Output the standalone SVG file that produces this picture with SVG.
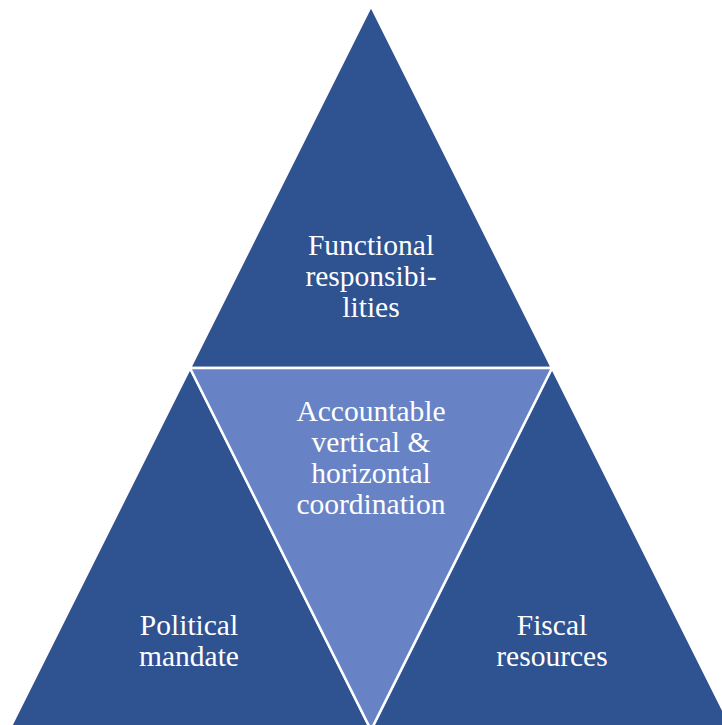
<svg xmlns="http://www.w3.org/2000/svg" width="722" height="725" viewBox="0 0 722 725">
<style>
.dark{fill:#2F5290;stroke:#FFFFFF;stroke-width:2.5;stroke-linejoin:miter}
.light{fill:#6883C5;stroke:#FFFFFF;stroke-width:2.5;stroke-linejoin:miter}
.lbl{font-size:29.5px;fill:#FFFFFF;text-anchor:middle}
</style>
<rect width="722" height="725" fill="#FFFFFF"/>
<g id="top">
<polygon class="dark" points="371,6 552,368 190,368"/>
<g font-family="'Times New Roman', 'Liberation Serif', serif">
<text class="lbl" x="371" y="255">Functional</text>
<text class="lbl" x="371" y="286">responsibi-</text>
<text class="lbl" x="371" y="317">lities</text>
</g>
</g>
<g id="left">
<polygon class="dark" points="190,368 371,730 9,730"/>
<g font-family="'Times New Roman', 'Liberation Serif', serif">
<text class="lbl" x="189" y="635">Political</text>
<text class="lbl" x="189" y="666">mandate</text>
</g>
</g>
<g id="right">
<polygon class="dark" points="552,368 733,730 371,730"/>
<g font-family="'Times New Roman', 'Liberation Serif', serif">
<text class="lbl" x="552" y="635">Fiscal</text>
<text class="lbl" x="552" y="666">resources</text>
</g>
</g>
<g id="center">
<polygon class="light" points="190,368 552,368 371,730"/>
<g font-family="'Times New Roman', 'Liberation Serif', serif">
<text class="lbl" x="371" y="421">Accountable</text>
<text class="lbl" x="371" y="452">vertical &amp;</text>
<text class="lbl" x="371" y="483">horizontal</text>
<text class="lbl" x="371" y="514">coordination</text>
</g>
</g>
<g id="connectors"></g>
</svg>
